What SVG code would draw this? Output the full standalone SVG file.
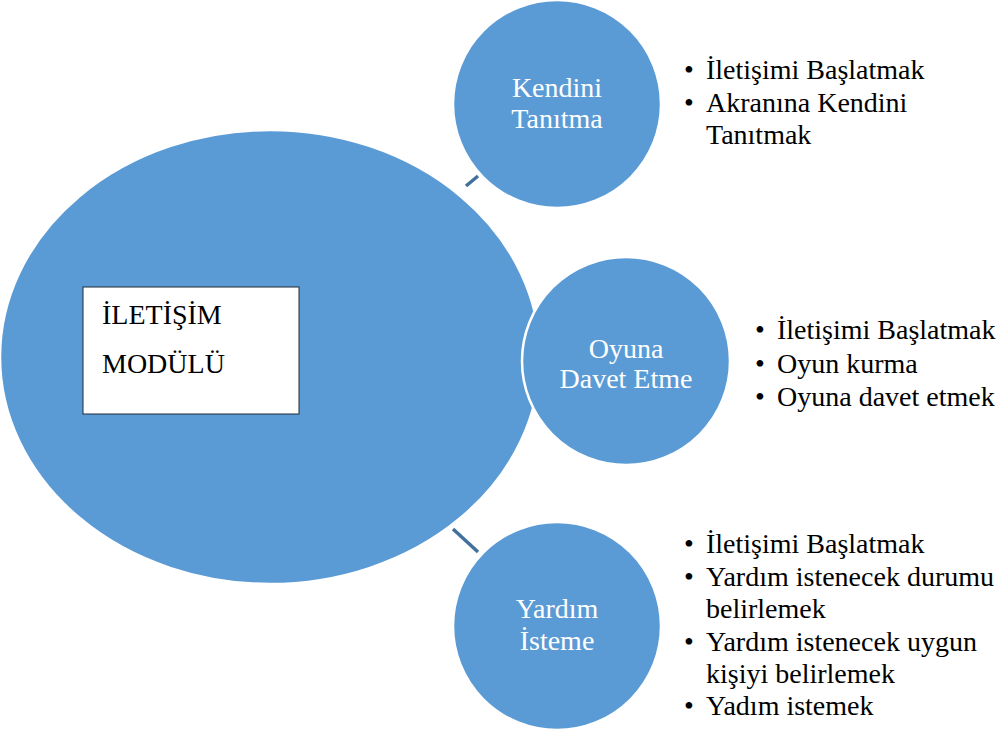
<svg xmlns="http://www.w3.org/2000/svg" width="1006" height="735" viewBox="0 0 1006 735">
  <style>
    .shape { fill: #5B9BD5; stroke: #FFFFFF; stroke-width: 2.5; }
    .link { stroke: #41719C; stroke-width: 3.5; fill: none; }
    .serif { font-family: "Liberation Serif", "DejaVu Serif", serif; }
    .label { font-size: 28px; fill: #FFFFFF; text-anchor: middle; }
    .item { font-size: 28px; fill: #000000; }
    .title { font-size: 28px; fill: #000000; }
  </style>
  <rect width="1006" height="735" fill="#FFFFFF"/>

  <g id="connectors">
    <line class="link" x1="466" y1="186" x2="478" y2="176"/>
    <line class="link" x1="453" y1="529" x2="478" y2="552"/>
  </g>

  <g id="module">
    <ellipse class="shape" cx="270" cy="357" rx="270" ry="227"/>
    <rect x="83" y="287" width="216" height="127" fill="#FFFFFF" stroke="#1F2A36" stroke-width="1"/>
    <text class="serif title" x="102" y="324">İLETİŞİM</text>
    <text class="serif title" x="102" y="373">MODÜLÜ</text>
  </g>

  <g id="node-kendini-tanitma">
    <circle class="shape" cx="557" cy="104" r="104"/>
    <text class="serif label" x="557" y="97">Kendini</text>
    <text class="serif label" x="557" y="128">Tanıtma</text>
  </g>

  <g id="node-oyuna-davet">
    <circle class="shape" cx="626" cy="361" r="104"/>
    <text class="serif label" x="626" y="358">Oyuna</text>
    <text class="serif label" x="626" y="388">Davet Etme</text>
  </g>

  <g id="node-yardim-isteme">
    <circle class="shape" cx="557" cy="626" r="104"/>
    <text class="serif label" x="557" y="618">Yardım</text>
    <text class="serif label" x="557" y="650">İsteme</text>
  </g>

  <g id="list-kendini-tanitma" class="serif">
    <text class="item" x="684" y="79">•</text>
    <text class="item" x="706" y="79">İletişimi Başlatmak</text>
    <text class="item" x="684" y="112">•</text>
    <text class="item" x="706" y="112">Akranına Kendini</text>
    <text class="item" x="706" y="144">Tanıtmak</text>
  </g>

  <g id="list-oyuna-davet" class="serif">
    <text class="item" x="755" y="339">•</text>
    <text class="item" x="777" y="339">İletişimi Başlatmak</text>
    <text class="item" x="755" y="373">•</text>
    <text class="item" x="777" y="373">Oyun kurma</text>
    <text class="item" x="755" y="406">•</text>
    <text class="item" x="777" y="406">Oyuna davet etmek</text>
  </g>

  <g id="list-yardim-isteme" class="serif">
    <text class="item" x="684" y="553">•</text>
    <text class="item" x="706" y="553">İletişimi Başlatmak</text>
    <text class="item" x="684" y="586">•</text>
    <text class="item" x="706" y="586">Yardım istenecek durumu</text>
    <text class="item" x="706" y="618">belirlemek</text>
    <text class="item" x="684" y="651">•</text>
    <text class="item" x="706" y="651">Yardım istenecek uygun</text>
    <text class="item" x="706" y="683">kişiyi belirlemek</text>
    <text class="item" x="684" y="715">•</text>
    <text class="item" x="706" y="715">Yadım istemek</text>
  </g>
</svg>
